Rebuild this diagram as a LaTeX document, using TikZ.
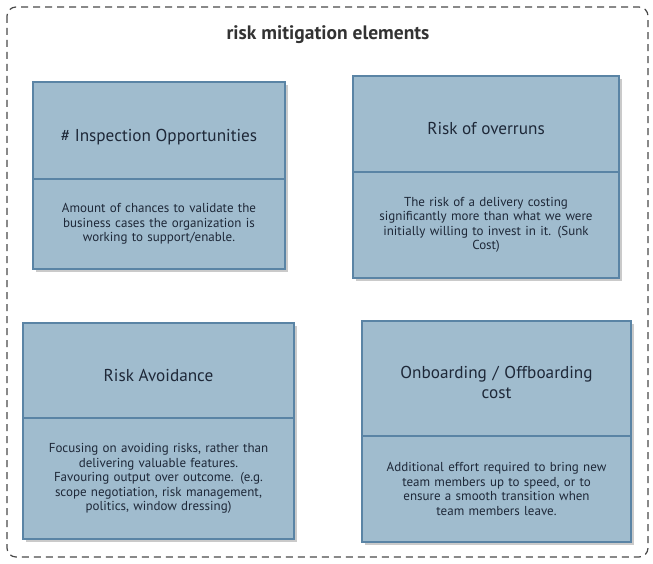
\documentclass[tikz,border=0pt]{standalone}
\usepackage{fontspec}
\setmainfont{PT Sans}
\usetikzlibrary{shadows}
\definecolor{boxfill}{HTML}{A0BCCE}
\definecolor{boxline}{HTML}{5A84A5}
\definecolor{txt}{HTML}{1E2838}
\definecolor{frame}{HTML}{4A4A4A}
\tikzset{
  part/.style={draw=boxline, fill=boxfill, line width=1.1pt, anchor=north west,
    inner sep=0pt, outer sep=0pt, align=center, text=txt,
    drop shadow={shadow xshift=3pt, shadow yshift=-3pt, opacity=0.35, fill=black!60}},
  head/.style={part, font=\fontsize{17.2}{20}\selectfont, text height=25pt, text depth=4pt},
  body/.style={part, font=\fontsize{13}{14.5}\selectfont},
}
\begin{document}
\begin{tikzpicture}[x=1pt,y=-1pt]
\useasboundingbox (0,0) rectangle (653,564);
\draw[frame, line width=1.2pt, dash pattern=on 7pt off 5pt, rounded corners=9pt] (7,7) rectangle (648,557);
\node[font=\fontsize{19.5}{22}\selectfont\bfseries, text=black!80] (title) at (328,35) {risk mitigation elements};
% box 1
\node[head, minimum width=252pt, minimum height=97pt, text height=27pt] (h1) at (33,82) {\# Inspection Opportunities};
\node[body, minimum width=252pt, minimum height=90pt, text width=252pt] (b1) at (33,179) {Amount of chances to validate the\\business cases the organization is\\working to support/enable.};
% box 2
\node[head, minimum width=266pt, minimum height=96pt] (h2) at (353,76) {Risk of overruns};
\node[body, minimum width=266pt, minimum height=106pt, text width=266pt] (b2) at (353,172) {The risk of a delivery costing\\significantly more than what we were\\initially willing to invest in it. (Sunk\\Cost)};
% box 3
\node[head, minimum width=271pt, minimum height=95pt] (h3) at (23,323) {Risk Avoidance};
\node[body, minimum width=271pt, minimum height=121pt, text width=271pt] (b3) at (23,418) {Focusing on avoiding risks, rather than\\delivering valuable features.\\Favouring output over outcome. (e.g.\\scope negotiation, risk management,\\politics, window dressing)};
% box 4
\node[head, minimum width=269pt, minimum height=115pt, text width=269pt, text height=24pt, text depth=24pt] (h4) at (362,321) {Onboarding / Offboarding\\cost};
\node[body, minimum width=269pt, minimum height=106pt, text width=269pt] (b4) at (362,436) {Additional effort required to bring new\\team members up to speed, or to\\ensure a smooth transition when\\team members leave.};
\end{tikzpicture}
\end{document}
